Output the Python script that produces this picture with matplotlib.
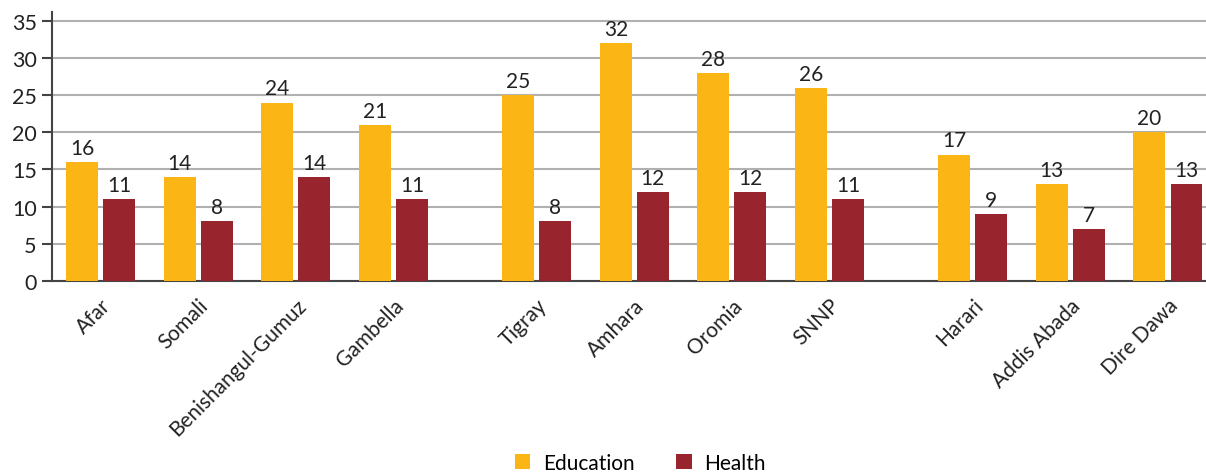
import matplotlib.pyplot as plt
import numpy as np

plt.rcParams['font.family'] = ['Lato', 'DejaVu Sans']

regions = ['Afar', 'Somali', 'Benishangul-Gumuz', 'Gambella',
           'Tigray', 'Amhara', 'Oromia', 'SNNP',
           'Harari', 'Addis Abada', 'Dire Dawa']
group_of = [0, 0, 0, 0, 1, 1, 1, 1, 2, 2, 2]
education = [16, 14, 24, 21, 25, 32, 28, 26, 17, 13, 20]
health = [11, 8, 14, 11, 8, 12, 12, 11, 9, 7, 13]

edu_col = '#FBB615'
hea_col = '#98242D'

# category positions, with extra space between region groups
x = np.arange(len(regions)) + 0.47 * np.array(group_of)
w = 0.327
off = 0.19

fig = plt.figure(figsize=(12.06, 4.77), dpi=100)
ax = fig.add_axes([0.0431, 0.409, 0.9569, 0.564])

b1 = ax.bar(x - off, education, w, color=edu_col, label='Education', zorder=3)
b2 = ax.bar(x + off, health, w, color=hea_col, label='Health', zorder=3)
ax.bar_label(b1, padding=3, fontsize=15, color='#222222')
ax.bar_label(b2, padding=3, fontsize=15, color='#222222')

ax.set_ylim(0, 36.2)
ax.set_xlim(-0.5, x[-1] + 0.39)
ax.set_yticks(range(0, 36, 5))
ax.yaxis.grid(True, color='#b0b0b0', linewidth=1.5, zorder=0)
ax.set_axisbelow(True)

ax.set_xticks(x)
ax.set_xticklabels(regions, rotation=45, ha='right', rotation_mode='anchor', fontsize=15, color='#222222')
ax.tick_params(axis='x', length=0, pad=10)
ax.tick_params(axis='y', length=7, width=1.5, color='#444444', labelsize=15.5, labelcolor='#222222', pad=4)

for s in ['top', 'right']:
    ax.spines[s].set_visible(False)
for s in ['left', 'bottom']:
    ax.spines[s].set_color('#444444')
    ax.spines[s].set_linewidth(1.5)

fig.legend(handles=[b1, b2], loc='lower center', bbox_to_anchor=(0.531, -0.033), ncol=2, frameon=False,
           fontsize=15, handlelength=0.75, handleheight=0.75, columnspacing=2.0, handletextpad=0.6)

fig.savefig('out.png', dpi=100)
